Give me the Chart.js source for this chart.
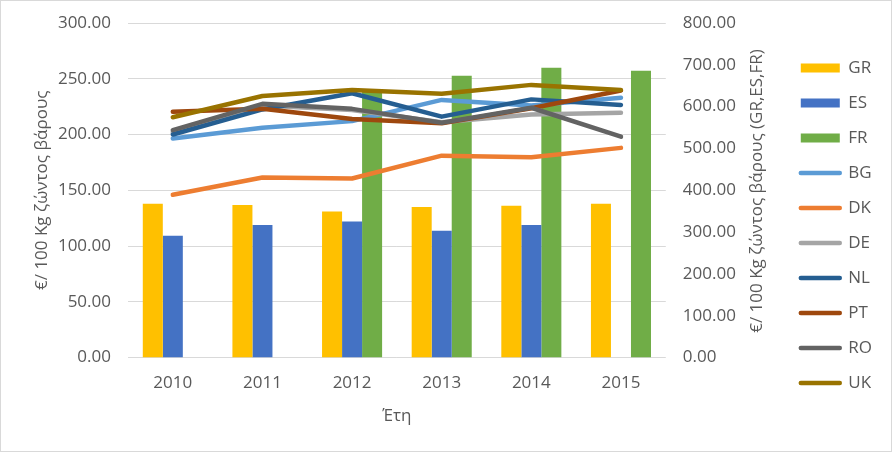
<!DOCTYPE html>
<html>
<head>
<meta charset="utf-8">
<script src="https://cdn.jsdelivr.net/npm/chart.js@4"></script>
<style>
  body { margin: 0; background: #fff; }
  #wrap { width: 892px; height: 452px; border: 1px solid #d9d9d9; box-sizing: border-box; }
  canvas { display: block; }
</style>
</head>
<body>
<div id="wrap"><canvas id="chart" width="890" height="450"></canvas></div>
<script>
var years = ['2010', '2011', '2012', '2013', '2014', '2015'];

// bars, right axis (GR,ES,FR)
var grData = [368, 365, 349, 360, 363, 368];
var esData = [291, 317, 325, 303, 317, null];
var frData = [null, null, 636, 674, 693, 686];

// lines, left axis
var bgData = [196.5, 206, 212, 231, 226, 233];
var dkData = [146, 161.5, 160.5, 181, 179.5, 188];
var deData = [202, 226, 222, 211, 218, 219.5];
var nlData = [200, 222.5, 237, 216, 231.5, 226.5];
var ptData = [220.5, 223, 214, 210, 223.5, 239.5];
var roData = [204, 227.5, 223, 210.5, 224, 198];
var ukData = [215.5, 234.5, 240, 236.5, 244.5, 240];

var leftTitle = '€/ 100 Kg ζώντος βάρους';
var rightTitle = '€/ 100 Kg ζώντος βάρους (GR,ES,FR)';
var xTitle = 'Έτη';

var textColor = '#595959';
var fontFamily = '"Open Sans", "Noto Sans", sans-serif';

function barSet(label, data, color) {
    return { type: 'bar', label: label, data: data, backgroundColor: color, yAxisID: 'y1', order: 100 };
}

function lineSet(label, data, color, order) {
    return {
        type: 'line', label: label, data: data, borderColor: color, backgroundColor: color,
        borderWidth: 4.5, pointRadius: 0, tension: 0, yAxisID: 'y',
        borderCapStyle: 'round', borderJoinStyle: 'round', order: order
    };
}

// tick padding would otherwise push the plot area down
function noVertPadding(scale) {
    scale.paddingTop = 0;
    scale.paddingBottom = 0;
}

var rightTitlePlugin = {
    id: 'rightTitle',
    afterDraw: function (chart) {
        var ctx = chart.ctx;
        ctx.save();
        ctx.translate(756, 190);
        ctx.rotate(-Math.PI / 2);
        ctx.font = '17px ' + fontFamily;
        ctx.fillStyle = textColor;
        ctx.textAlign = 'center';
        ctx.textBaseline = 'middle';
        ctx.fillText(rightTitle, 0, 0);
        ctx.restore();
    }
};

var ctx = document.getElementById('chart').getContext('2d');
var chart = new Chart(ctx, {
    type: 'bar',
    data: {
        labels: years,
        datasets: [
            barSet('GR', grData, '#FFC000'),
            barSet('ES', esData, '#4472C4'),
            barSet('FR', frData, '#70AD47'),
            lineSet('BG', bgData, '#5B9BD5', 7),
            lineSet('DK', dkData, '#ED7D31', 6),
            lineSet('DE', deData, '#A5A5A5', 5),
            lineSet('NL', nlData, '#255E91', 4),
            lineSet('PT', ptData, '#9E480E', 3),
            lineSet('RO', roData, '#636363', 2),
            lineSet('UK', ukData, '#997300', 1)
        ]
    },
    options: {
        responsive: false,
        animation: false,
        devicePixelRatio: 1,
        layout: { padding: { top: 22, bottom: 23, left: 0, right: 9 } },
        datasets: { bar: { categoryPercentage: 0.67, barPercentage: 1.0 } },
        plugins: {
            tooltip: { enabled: false },
            legend: {
                position: 'right',
                labels: {
                    usePointStyle: true,
                    pointStyleWidth: 39,
                    boxHeight: 9,
                    padding: 18,
                    color: textColor,
                    font: { family: fontFamily, size: 17 },
                    generateLabels: function (chart) {
                        return chart.data.datasets.map(function (ds, i) {
                            var isBar = ds.type === 'bar';
                            return {
                                text: ds.label,
                                fillStyle: isBar ? ds.backgroundColor : ds.borderColor,
                                strokeStyle: isBar ? ds.backgroundColor : ds.borderColor,
                                lineWidth: isBar ? 0 : 4.5,
                                lineCap: 'round',
                                pointStyle: isBar ? 'rect' : 'line',
                                fontColor: textColor,
                                datasetIndex: i,
                                hidden: false
                            };
                        });
                    }
                }
            }
        },
        scales: {
            x: {
                grid: { display: false, drawTicks: false },
                border: { display: false },
                ticks: { color: textColor, font: { family: fontFamily, size: 17 }, padding: 15 },
                title: { display: true, text: xTitle, color: textColor, font: { family: fontFamily, size: 17 }, padding: { top: 0, bottom: 2 } },
                afterFit: function (scale) { scale.height = 70.5; }
            },
            y: {
                position: 'left',
                min: 0, max: 300,
                grid: { color: '#d9d9d9', lineWidth: 1, drawTicks: false },
                border: { display: false },
                ticks: {
                    stepSize: 50, padding: 17, color: textColor,
                    font: { family: fontFamily, size: 17 },
                    callback: function (v) { return v.toFixed(2); }
                },
                title: { display: true, text: leftTitle, color: textColor, font: { family: fontFamily, size: 17 }, padding: { top: 31, bottom: 0 } },
                afterFit: function (scale) { scale.width = 127; noVertPadding(scale); }
            },
            y1: {
                position: 'right',
                min: 0, max: 800,
                grid: { display: false, drawTicks: false },
                border: { display: false },
                ticks: {
                    stepSize: 100, padding: 17, color: textColor,
                    font: { family: fontFamily, size: 17 },
                    callback: function (v) { return v.toFixed(2); }
                },
                afterFit: function (scale) { scale.width = 117; noVertPadding(scale); }
            }
        }
    },
    plugins: [rightTitlePlugin]
});
</script>
</body>
</html>
